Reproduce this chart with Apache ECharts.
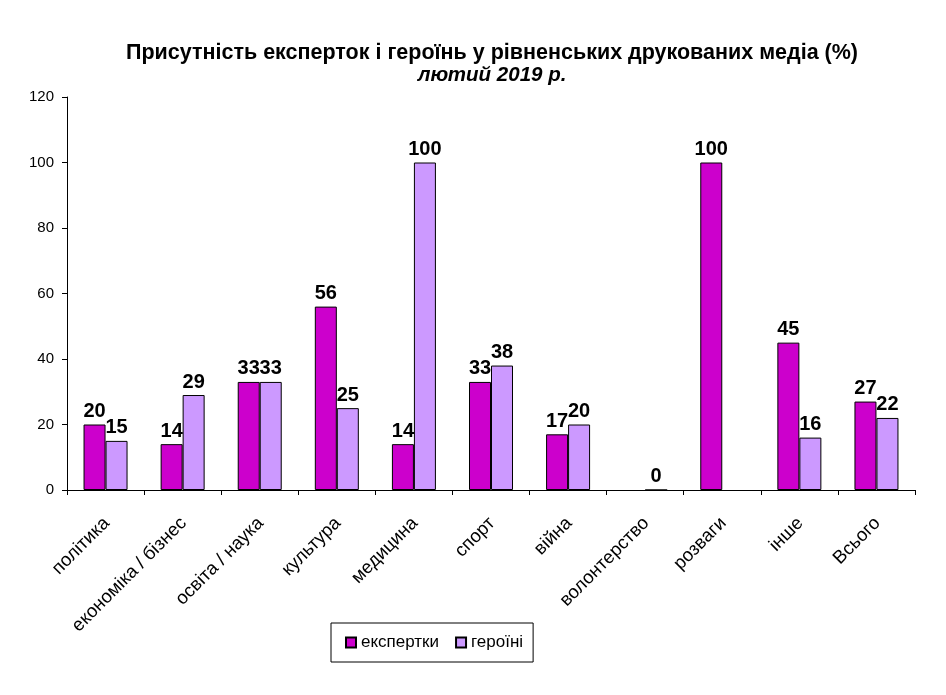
<!DOCTYPE html>
<html><head><meta charset="utf-8">
<script src="https://cdn.jsdelivr.net/npm/echarts@6/dist/echarts.min.js"></script>
<style>html,body{margin:0;padding:0;background:#fff}#c{width:946px;height:695px}</style>
</head><body><div id="c"></div>
<script>
const categories = ['політика','економіка / бізнес','освіта / наука','культура','медицина','спорт','війна','волонтерство','розваги','інше','Всього'];
const experts = [20,14,33,56,14,33,17,null,100,45,27];
const heroines = [15,29,33,25,100,38,20,0,null,16,22];
const yTicks = [0,20,40,60,80,100,120];

const chart = echarts.init(document.getElementById('c'));
const labelStyle = {show:true, position:'top', distance:3, color:'#000', fontFamily:'Arial, Liberation Sans', fontWeight:'bold', fontSize:20};
chart.setOption({
  animation:false,
  backgroundColor:'#fff',
  title:{
    text:'Присутність експерток і героїнь у рівненських друкованих медіа (%)',
    subtext:'лютий 2019 р.',
    left:487, textAlign:'center', top:37, itemGap:0,
    textStyle:{fontFamily:'Arial, Liberation Sans', fontWeight:'bold', fontSize:21.5, lineHeight:22, color:'#000'},
    subtextStyle:{fontFamily:'Arial, Liberation Sans', fontWeight:'bold', fontStyle:'italic', fontSize:20.5, lineHeight:22, color:'#000'}
  },
  legend:{
    data:['експертки','героїні'],
    left:331, top:623, 
    padding:[11,10,11,14],
    borderColor:'#000', borderWidth:1,
    itemWidth:10, itemHeight:10, itemGap:16,
    icon:'rect',
    textStyle:{fontFamily:'Arial, Liberation Sans', fontSize:17, color:'#000'}
  },
  grid:{left:67, right:31, top:97, bottom:205, containLabel:false},
  xAxis:{
    type:'category', data:categories,
    axisLine:{lineStyle:{color:'#000', width:1}},
    axisTick:{show:true, alignWithLabel:false, length:5, lineStyle:{color:'#000'}},
    axisLabel:{rotate:45, interval:0, margin:18, verticalAlign:'top', align:'right', padding:[0,8,0,0], color:'#000', fontFamily:'Arial, Liberation Sans', fontSize:18.5}
  },
  yAxis:{
    type:'value', min:0, max:120, interval:20,
    axisLine:{show:true, lineStyle:{color:'#000', width:1}},
    axisTick:{show:true, length:5, lineStyle:{color:'#000'}},
    splitLine:{show:false},
    axisLabel:{color:'#000', fontFamily:'Arial, Liberation Sans', fontSize:15, margin:13,
      formatter:function(v){return yTicks.indexOf(v)>=0?String(v):'';}}
  },
  series:[
    {name:'експертки', type:'bar', data:experts, barWidth:22, barGap:'0%',
     itemStyle:{color:'#CC00CC', borderColor:'#000', borderWidth:1}, label:labelStyle},
    {name:'героїні', type:'bar', data:heroines, barWidth:22, barGap:'0%',
     itemStyle:{color:'#CC99FF', borderColor:'#000', borderWidth:1}, label:labelStyle}
  ]
});
</script></body></html>
